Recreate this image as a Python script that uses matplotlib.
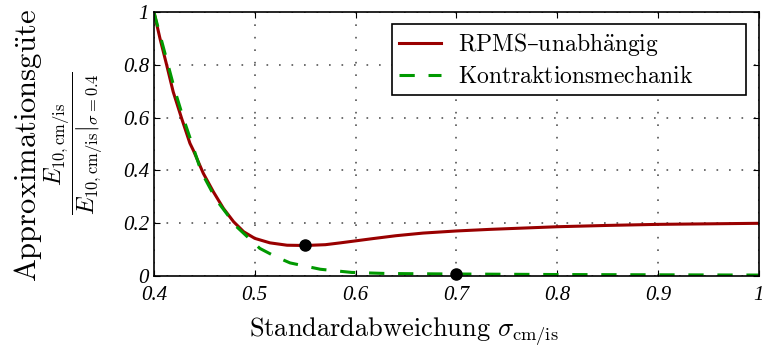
import numpy as np
import matplotlib
matplotlib.use('Agg')
import matplotlib.pyplot as plt

plt.rcParams['mathtext.fontset'] = 'cm'
plt.rcParams['font.family'] = ['DejaVu Serif']
plt.rcParams['axes.unicode_minus'] = False

# values
sigma_rpms = [0.400, 0.406, 0.4126, 0.4191, 0.4275, 0.4357, 0.439, 0.449, 0.459, 0.469,
              0.479, 0.489, 0.500, 0.515, 0.532, 0.550, 0.570, 0.585, 0.601, 0.617,
              0.640, 0.667, 0.700, 0.733, 0.800, 0.850, 0.900, 0.950, 1.000]
guete_rpms = [1.000, 0.900, 0.800, 0.698, 0.597, 0.503, 0.477, 0.389, 0.319, 0.256,
              0.206, 0.168, 0.143, 0.126, 0.117, 0.116, 0.119, 0.126, 0.134, 0.142,
              0.153, 0.163, 0.171, 0.177, 0.187, 0.192, 0.196, 0.198, 0.200]

sigma_kontr = [0.400, 0.407, 0.414, 0.421, 0.429, 0.437, 0.447, 0.462, 0.482, 0.505,
               0.520, 0.535, 0.565, 0.596, 0.630, 0.660, 0.700, 0.800, 0.900, 1.000]
guete_kontr = [1.000, 0.900, 0.800, 0.700, 0.600, 0.510, 0.395, 0.288, 0.187, 0.105,
               0.075, 0.050, 0.026, 0.014, 0.010, 0.009, 0.008, 0.006, 0.005, 0.004]

marker_x = [0.55, 0.70]
marker_y = [0.116, 0.008]

xticks = [0.4, 0.5, 0.6, 0.7, 0.8, 0.9, 1.0]
xticklabels = ['0.4', '0.5', '0.6', '0.7', '0.8', '0.9', '1']
yticks = [0, 0.2, 0.4, 0.6, 0.8, 1.0]
yticklabels = ['0', '0.2', '0.4', '0.6', '0.8', '1']

fig = plt.figure(figsize=(7.62, 3.54), dpi=100)
ax = fig.add_axes([0.202, 0.220, 0.794, 0.746])

ax.plot(sigma_rpms, guete_rpms, color='#990000', lw=2.2,
        label=r'$\mathrm{RPMS}$' + '\u2013' + r'$\mathrm{unabh\ddot{a}ngig}$')
ax.plot(sigma_kontr, guete_kontr, color='#009900', lw=2.2, ls=(0, (5, 4.5)),
        label=r'$\mathrm{Kontraktionsmechanik}$')
ax.plot(marker_x, marker_y, 'o', color='black', ms=8, zorder=5, clip_on=False)

ax.set_xlim(0.4, 1.0)
ax.set_ylim(0, 1.0)
ax.set_xticks(xticks)
ax.set_yticks(yticks)
ax.set_xticklabels(xticklabels, family='Liberation Serif', style='italic', fontsize=15)
ax.set_yticklabels(yticklabels, family='Liberation Serif', style='italic', fontsize=15)
ax.tick_params(direction='in', top=True, right=True, length=4, width=0.8)
ax.tick_params(axis='x', pad=7)
ax.grid(True, color='#555555', ls=(0, (1, 6.5)), lw=1.2)
for sp in ax.spines.values():
    sp.set_linewidth(1.2)

# legend box spans a fixed width like in the reference
leg = ax.legend(loc='upper left', bbox_to_anchor=(0.393, 0.0, 0.586, 0.955),
                mode='expand', fontsize=17, fancybox=False, edgecolor='black',
                framealpha=1, handlelength=1.8, handletextpad=0.7,
                borderpad=0.3, labelspacing=0.3, borderaxespad=0)
leg.get_frame().set_linewidth(1.2)

fig.text(0.037, 0.59, r'$\mathrm{Approximationsg\ddot{u}te}$', rotation=90,
         ha='center', va='center', fontsize=22)
fig.text(0.097, 0.596,
         r'$\dfrac{E_{10,\mathrm{cm/is}}}{E_{10,\mathrm{cm/is}}|_{\sigma=0.4}}$',
         rotation=90, ha='center', va='center', fontsize=17)
fig.text(0.53, 0.062, r'$\mathrm{Standardabweichung}\ \sigma_{\mathrm{cm/is}}$',
         ha='center', va='center', fontsize=19)

fig.savefig('out.png', dpi=100)
